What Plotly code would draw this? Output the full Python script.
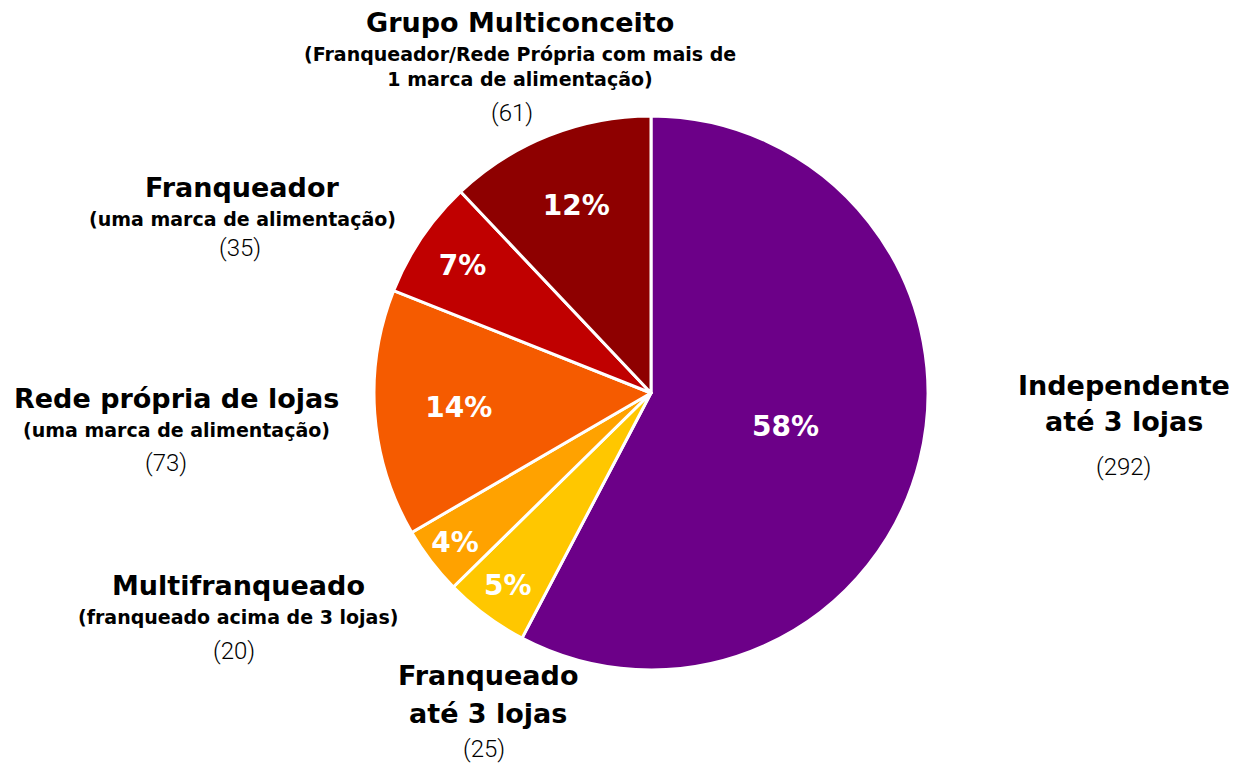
import plotly.graph_objects as go

# ===== dados =====
categorias = [
    "Independente<br>até 3 lojas",
    "Franqueado<br>até 3 lojas",
    "Multifranqueado",
    "Rede própria de lojas",
    "Franqueador",
    "Grupo Multiconceito",
]
subtitulos = [
    "",
    "",
    "(franqueado acima de 3 lojas)",
    "(uma marca de alimentação)",
    "(uma marca de alimentação)",
    "(Franqueador/Rede Própria com mais de<br>1 marca de alimentação)",
]
quantidades = [292, 25, 20, 73, 35, 61]
cores = ["#6C0088", "#FFC700", "#FFA200", "#F55B00", "#C00000", "#8E0000"]

FONTE = "DejaVu Sans"
FONTE_LEVE = "Roboto"
W, H = 1237, 765
OFF = 8               # a página tem 8px de margem no body

# posição dos rótulos (px da referência): x, y de cada linha do título, subtítulo, contagem
ROTULOS = [
    dict(x=1124, yt=[385, 421], ys=None, xc=1123, yc=467),
    dict(x=488, yt=[675, 713], ys=None, xc=484, yc=749),
    dict(x=238, yt=[585], ys=617, xc=234, yc=651),
    dict(x=176, yt=[398], ys=430, xc=166, yc=463),
    dict(x=242, yt=[187], ys=219, xc=240, yc=248),
    dict(x=520, yt=[22], ys=67, xc=512, yc=113),
]

# pizza: centro (651, 393), raio 277 px (referência)
cx, cy, r = 651 - OFF, 393 - OFF, 277

fig = go.Figure()
fig.add_trace(go.Pie(
    labels=[c.replace("<br>", " ") for c in categorias],
    values=quantidades,
    sort=False,
    direction="clockwise",
    rotation=0,
    marker=dict(colors=cores, line=dict(color="white", width=3)),
    texttemplate="<b>%{percent:.0%}</b>",
    textposition="inside",
    insidetextorientation="horizontal",
    insidetextfont=dict(family=FONTE, size=28, color="white"),
    hoverinfo="label+value+percent",
    showlegend=False,
    domain=dict(x=[(cx - r) / W, (cx + r) / W], y=[1 - (cy + r) / H, 1 - (cy - r) / H]),
))


def px(x, y):
    return (x - OFF) / W, 1 - (y - OFF) / H


def rotulo(x, y, texto, fonte):
    xp, yp = px(x, y)
    fig.add_annotation(x=xp, y=yp, xref="paper", yref="paper", showarrow=False,
                       xanchor="center", yanchor="middle", align="center",
                       text=texto, font=fonte)


for cat, sub, n, pos in zip(categorias, subtitulos, quantidades, ROTULOS):
    for linha, y in zip(cat.split("<br>"), pos["yt"]):
        rotulo(pos["x"], y, f"<b>{linha}</b>", dict(family=FONTE, size=27, color="black"))
    if sub:
        rotulo(pos["x"], pos["ys"], f"<b>{sub}</b>", dict(family=FONTE, size=19, color="black"))
    rotulo(pos["xc"], pos["yc"], f"({n})", dict(family=FONTE_LEVE, size=24, color="black", weight=300))

fig.update_layout(
    width=W, height=H,
    margin=dict(l=0, r=0, t=0, b=0),
    paper_bgcolor="white",
    plot_bgcolor="white",
)

fig.write_html("out.html")
